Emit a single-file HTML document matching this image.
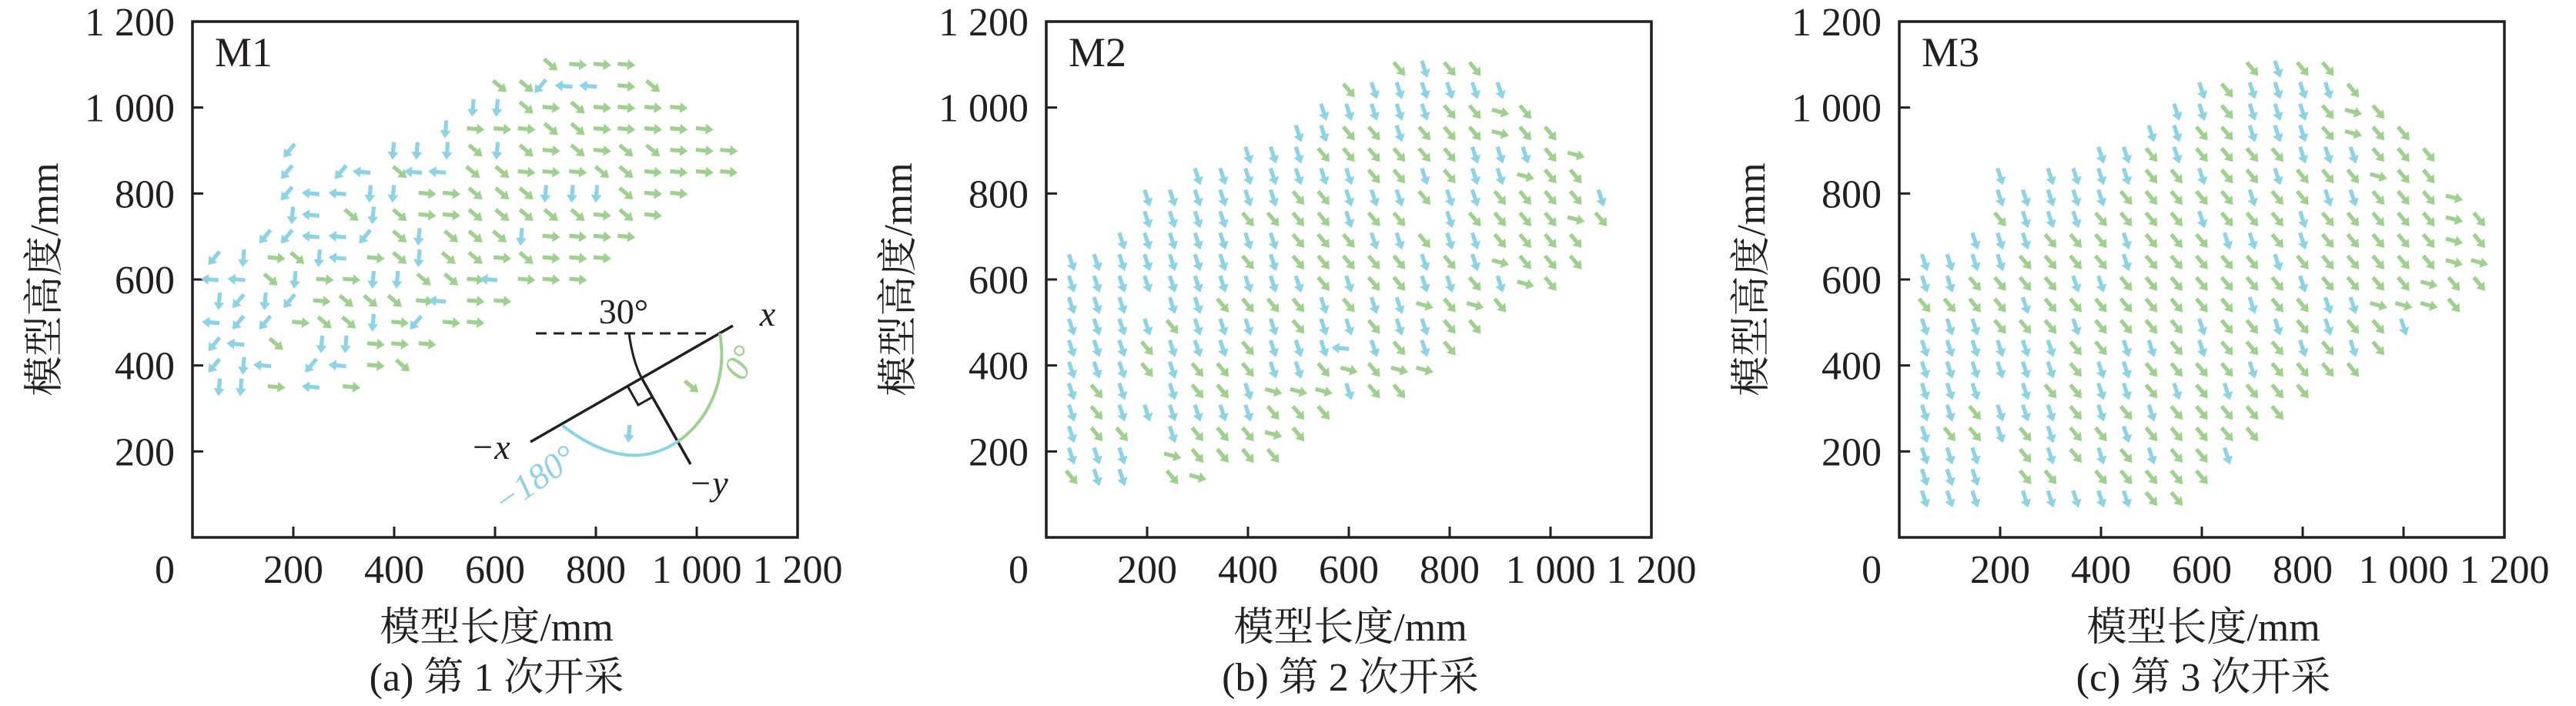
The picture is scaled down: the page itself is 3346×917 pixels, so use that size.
<!DOCTYPE html>
<html><head><meta charset="utf-8"><style>
html,body{margin:0;padding:0;background:#fff;}
svg{display:block;}
text{font-family:"Liberation Serif","Noto Serif CJK SC","Noto Sans CJK SC",serif;fill:#231f20;}
</style></head><body>
<svg id="chart" width="3346" height="917" viewBox="0 0 3346 917" xmlns="http://www.w3.org/2000/svg">
<rect x="0" y="0" width="3346" height="917" fill="#fff"/>
<g id="layer"></g>
<g stroke-linecap="butt">
  <line x1="696" y1="433" x2="922" y2="433" stroke="#231f20" stroke-width="3" stroke-dasharray="14,9"/>
  <line x1="689" y1="574" x2="952" y2="423" stroke="#231f20" stroke-width="3.5"/>
  <line x1="834" y1="492" x2="897" y2="603" stroke="#231f20" stroke-width="3.5"/>
  <polyline points="816,503 829,526 847,516" fill="none" stroke="#231f20" stroke-width="3"/>
  <path d="M817,433 Q822,470 834,492" fill="none" stroke="#231f20" stroke-width="3"/>
  <path d="M935,433 C945,490 922,545 881,573" fill="none" stroke="#9fd18e" stroke-width="4"/>
  <path d="M881,573 Q815,618 731,553" fill="none" stroke="#8dd3e6" stroke-width="4"/>
  <text x="810" y="420" font-size="46" text-anchor="middle">30°</text>
  <text x="997" y="423" font-size="46" font-style="italic" text-anchor="middle">x</text>
  <text x="920" y="643" font-size="46" font-style="italic" text-anchor="middle">−y</text>
  <text x="637" y="596" font-size="46" font-style="italic" text-anchor="middle">−x</text>
  <text x="0" y="0" font-size="46" font-style="italic" text-anchor="middle" transform="translate(975,478) rotate(-62)" style="fill:#9fd18e">0°</text>
  <text x="0" y="0" font-size="46" font-style="italic" text-anchor="middle" transform="translate(703,635) rotate(-35)" style="fill:#8dd3e6">−180°</text>
</g>
</svg>
<script>
// ---------- data ----------
const panelLefts=[250,1359,2467];
const panelLabels=["M1","M2","M3"];
const captions=["(a) 第 1 次开采","(b) 第 2 次开采","(c) 第 3 次开采"];
const xTickValues=[0,200,400,600,800,1000,1200];
const xTickLabels=["0","200","400","600","800","1 000","1 200"];
const yTickValues=[200,400,600,800,1000,1200];
const yTickLabels=["200","400","600","800","1 000","1 200"];

// Panel M1 (rows: y in mm, x in mm, direction codes)
const m1RowsY=[1100,1050,1000,950,900,850,800,750,700,650,600,550,500,450,400,350];
const m1RowsX=[
[710,764,812,860],
[609,662,690,737,785,860,913],
[556,604,662,711,764,812,860,913,964],
[502,561,614,662,711,764,812,860,913,964,1015],
[192,398,445,505,561,604,662,711,764,812,860,913,964,1015,1063],
[187,294,336,411,438,486,556,614,662,711,764,812,860,913,964,1015,1063],
[187,235,288,352,398,465,513,561,614,662,700,753,801,860,913,964],
[198,235,315,358,411,465,513,561,614,662,711,764,812,860,913],
[144,187,235,288,342,411,449,513,561,609,652,711,764,812,860],
[43,101,166,208,251,288,363,411,449,508,561,614,662,711,764,812],
[35,88,155,203,262,315,358,406,459,513,561,588,662,711,764],
[53,91,144,192,256,305,353,401,460,486,561,614],
[37,91,144,214,262,310,358,411,443,513,561],
[43,86,166,256,304,363,411,465],
[43,101,139,235,288,363,417],
[53,96,166,235,315]];
const m1RowsDir=["SRRR","SSWLLRS","DDSRSRRRR","DRRRSSRRRRR","WDDDSDSRSRSSRRR","WWLSLLSSRRRSSRRRR","WLLDDRRSSSDDDSRR","DLSDSRRSSSSSRSR","WWLLWSDSSSDRRRR","WDRSDLRSDSSRSRRR","LLSDRRDDSSRLRRR","DWDWRSSSRLRR","LWWRSSDRWRR","WLSDDRRR","WDLWLRS","DDRLR"];

// Panel M2
const m2RowsY=[1090,1040,990,940,890,840,790,740,690,640,590,540,490,440,390,340,290,240,190,140];
const m2RowsX=[
[700,750,800,850],
[600,650,700,750,800,850,900],
[550,600,650,700,750,800,850,900,950],
[500,550,600,650,700,750,800,850,900,950,1000],
[400,450,500,550,600,650,700,750,800,850,900,950,1000,1050],
[300,350,400,450,500,550,600,650,700,750,800,850,900,950,1000,1050],
[200,250,300,350,400,450,500,550,600,650,700,750,800,850,900,950,1000,1050,1100],
[200,250,300,350,400,450,500,550,600,650,700,800,850,900,950,1000,1050,1100],
[150,200,250,300,350,400,450,500,550,600,650,700,750,800,850,900,950,1000,1050],
[50,100,150,200,250,300,350,400,450,500,550,600,650,700,750,800,850,900,950,1000,1050],
[50,100,150,200,250,300,350,400,450,500,550,600,650,700,750,800,850,900,950,1000],
[50,100,150,250,300,350,400,450,500,550,600,650,700,750,800,850,900],
[50,100,150,200,250,300,350,400,450,500,550,600,650,700,750,800,850],
[50,100,150,200,250,300,350,400,450,500,550,584,650,700,750,800],
[50,100,150,200,250,300,350,400,450,500,550,600,650,700,750],
[50,100,150,250,300,350,400,450,500,550,600,650,700],
[50,100,150,200,250,300,350,400,450,500,550],
[50,100,150,250,300,350,400,450,500],
[50,100,150,250,300,350,400,450],
[50,100,150,250,300]];
const m2RowsDir=["GDGG","GDDDDDD","DDDDDGGRG","DDGGDGGGRGG","DDDGGGGGGDDDGR","DDDDDDDGGDGDDRGG","DDDDDDGGDDDGDDGGGGD","DDDDGGGGDGGDGGGGRG","DDDDDDDGGGDDGDDGGGG","DDDDDDDGDGGGGGDGDRGGG","DDDDDDDDDDGDGGDDGDRG","DDDDDGGGGDGDDRGRG","DDDDGDDDDGDDGDDGG","DDDGDDDGDDDLDGDG","DDDGDGGGDDGRGRR","DGDDGGDRRRDGG","DGDDDDDDGGG","DGGDGGGRG","DDDRGGGG","GDDGR"];

// Panel M3
const m3RowsY=[1090,1040,990,940,890,840,790,740,690,640,590,540,490,440,390,340,290,240,190,140,90];
const m3RowsX=[
[700,750,800,850],
[600,650,700,750,800,850,900],
[550,600,650,700,750,800,850,900,950],
[500,550,600,650,700,750,800,850,900,950,1000],
[400,450,500,550,600,650,700,750,800,850,900,950,1000,1050],
[200,300,350,400,450,500,550,600,650,700,750,800,850,900,950,1000,1050],
[200,250,300,350,400,450,500,550,600,650,700,750,800,850,900,950,1000,1050,1100],
[200,250,300,350,400,450,500,550,600,650,700,750,800,850,900,950,1000,1050,1100,1150],
[150,200,250,300,350,400,450,500,550,600,650,700,750,800,850,900,950,1000,1050,1100,1150],
[50,100,150,200,250,300,350,400,450,500,550,600,650,700,750,800,850,900,950,1000,1050,1100,1150],
[50,100,150,200,250,300,350,400,450,500,550,600,650,700,750,800,850,900,950,1000,1050,1100,1150],
[50,100,150,200,250,300,350,400,450,500,550,600,650,700,750,800,850,900,950,1000,1050,1100],
[50,100,150,200,250,300,350,400,450,500,550,600,650,700,750,800,850,900,950,1000],
[50,100,150,200,250,300,350,400,450,500,550,600,650,700,750,800,850,900,950],
[50,100,150,200,250,300,350,400,450,500,550,600,650,700,750,800,850,900],
[50,100,150,250,300,350,400,450,500,550,600,650,700,750,800],
[50,100,150,200,250,300,350,400,450,500,550,600,650,700,750],
[50,100,150,200,250,300,350,400,450,500,550,600,650,700],
[50,100,150,250,300,350,400,450,500,550,600,650],
[50,100,150,250,300,400,450,500,550,600],
[50,100,150,250,300,350,400,450,500,550]];
const m3RowsDir=["GDGG","DGDDDDG","DDGDDDGRG","DDGGDDDGRGG","DDGDGGGGDDDGGG","DDDDDGGDGGDGGGRGG","DDDDDGGGGGDGGDDGGGR","GDDDGGGGDGGGDGGGGGRG","DDDGGGDGGGDDGDGGGGGRG","DDDDGGGGDGGGGGDGGGGGGRR","DDGGGGDDGGGGGGGDGGGGRGG","GGGGDGGGGGGGGDGGDDRRRG","DDDGGGDGGGGDGGDGDGGD","DDDDDDGGDDGDGGGDGDG","DDDDDDGDDGGGGDGGGG","DDDDGGDDGDGDGGG","DDGDDDGDGDGGGGG","DGGDGDGGDGGGGG","DDDGDGDGDGGD","DDDGGGGGGG","DDDDDDDDGG"];

// direction code -> angle in degrees (counter-clockwise from east)
const dirAngles={R:-5,S:-40,D:-95,W:-130,L:175,G:-50};
const dirAngles23={D:-72,G:-50,R:-15,L:175};

// ---------- drawing ----------
const NS="http://www.w3.org/2000/svg";
const layer=document.getElementById('layer');
const TOP=28,BOTTOM=698,W=786;
const BLUE="#8dd3e6",GREEN="#9fd18e";
const ARROW='M-11,-2.6 L2,-2.6 L2,-7 L12,0 L2,7 L2,2.6 L-11,2.6 Z';
function xs(p,v){return panelLefts[p]+v*(W/1200);}
function ys(v){return BOTTOM-v*((BOTTOM-TOP)/1200);}
function mk(tag,attrs,parent){const e=document.createElementNS(NS,tag);for(const k in attrs)e.setAttribute(k,attrs[k]);(parent||layer).appendChild(e);return e;}
function colorFor(a){let t=a;if(t>180)t-=360;return (t>-60&&t<=35)?GREEN:BLUE;}

for(let p=0;p<3;p++){
  const L=panelLefts[p];
  const g=mk('g',{});
  
  
  const box=mk('rect',{x:L,y:TOP,width:W,height:BOTTOM-TOP,fill:'none',stroke:'#231f20','stroke-width':3.5},g);
  
  
  xTickValues.forEach((v,i)=>{
    const x=xs(p,v);
    if(v>0&&v<1200){const t=mk('line',{x1:x,y1:BOTTOM,x2:x,y2:BOTTOM-14,stroke:'#231f20','stroke-width':3},g);
      
      }
    const tx=mk('text',{x:(v===0?x-36:x),y:757,'font-size':52,'text-anchor':'middle'},g);
    tx.textContent=xTickLabels[i];
    
    
  });
  yTickValues.forEach((v,i)=>{
    const y=ys(v);
    if(v<1200){const t=mk('line',{x1:L,y1:y,x2:L+14,y2:y,stroke:'#231f20','stroke-width':3},g);
      
      }
    const tx=mk('text',{x:L-23,y:y+18,'font-size':52,'text-anchor':'end'},g);
    tx.textContent=yTickLabels[i];
    
    
  });
  const lab=mk('text',{x:L+29,y:86,'font-size':54},g);
  lab.textContent=panelLabels[p];
  
  
  const xt=mk('text',{x:L+395,y:832,'font-size':52,'text-anchor':'middle'},g);
  xt.textContent='模型长度/mm';
  
  
  const yt=mk('text',{x:0,y:0,'font-size':52,'text-anchor':'middle',transform:'translate('+(L-175)+',363) rotate(-90)'},g);
  yt.textContent='模型高度/mm';
  
  
  const cap=mk('text',{x:L+395,y:897,'font-size':52,'text-anchor':'middle'},g);
  cap.textContent=captions[p];
  
  
}

function arrow(p,xv,yv,ang){
  const c=colorFor(ang);
  const a=mk('path',{d:ARROW,fill:c,
    transform:'translate('+xs(p,xv).toFixed(1)+','+ys(yv).toFixed(1)+') rotate('+(-ang)+')'});
  
  
}
function drawPanel(p,rowsY,rowsX,rowsDir,map){
  rowsY.forEach((yv,r)=>{
    rowsX[r].forEach((xv,i)=>{
      const code=rowsDir[r][i];
      const ang=map[code];
      if(ang!==undefined)arrow(p,xv,yv,ang);
    });
  });
}
drawPanel(0,m1RowsY,m1RowsX,m1RowsDir,dirAngles);
drawPanel(1,m2RowsY,m2RowsX,m2RowsDir,dirAngles23);
drawPanel(2,m3RowsY,m3RowsX,m3RowsDir,dirAngles23);

// legend sample arrows inside the angle diagram
const la=mk('path',{d:ARROW,fill:GREEN,transform:'translate(898,502) rotate(40)'});


const lb=mk('path',{d:ARROW,fill:BLUE,transform:'translate(817,563) rotate(95)'});


</script>
</body></html>
